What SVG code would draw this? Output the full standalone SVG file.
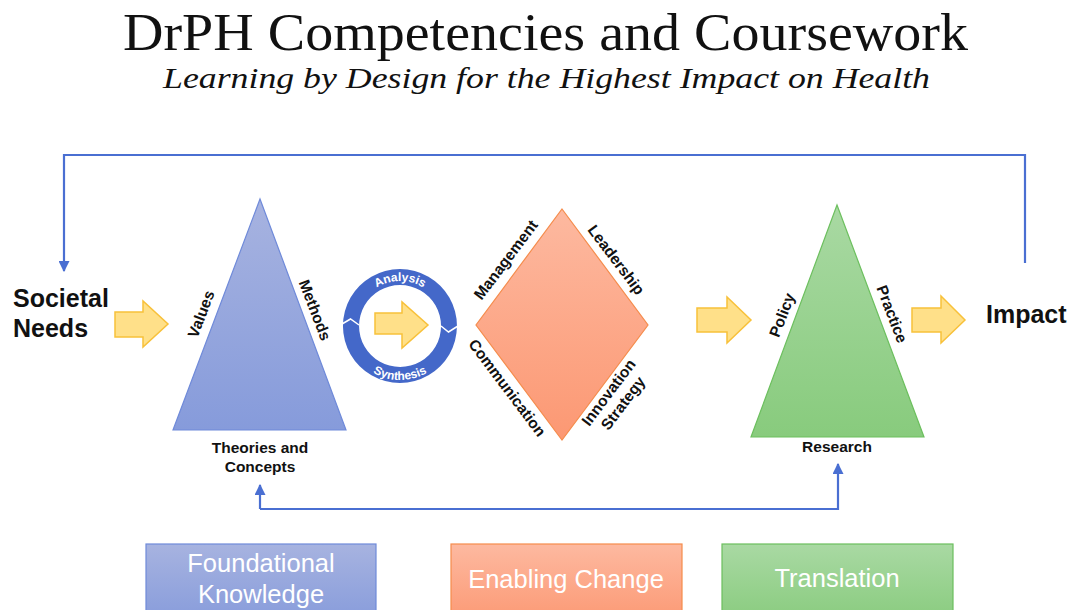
<svg xmlns="http://www.w3.org/2000/svg" width="1073" height="610" viewBox="0 0 1073 610">
  <defs>
    <linearGradient id="gBlue" x1="0" y1="0" x2="0" y2="1">
      <stop offset="0" stop-color="#a7b3e0"/>
      <stop offset="1" stop-color="#869bdb"/>
    </linearGradient>
    <linearGradient id="gOrange" x1="0" y1="0" x2="0" y2="1">
      <stop offset="0" stop-color="#fdb9a0"/>
      <stop offset="1" stop-color="#fc9873"/>
    </linearGradient>
    <linearGradient id="gGreen" x1="0" y1="0" x2="0" y2="1">
      <stop offset="0" stop-color="#a9d9a3"/>
      <stop offset="1" stop-color="#88cb7d"/>
    </linearGradient>
    <marker id="head" viewBox="0 0 10 10" refX="9" refY="5" markerWidth="5" markerHeight="5" orient="auto" markerUnits="strokeWidth">
      <path d="M0,0 L10,5 L0,10 Z" fill="#4a6fd2"/>
    </marker>
    <path id="arcTop" d="M355,326 A45,45 0 0 1 445,326"/>
    <path id="arcBottom" d="M346,326 A54,54 0 0 0 454,326"/>
  </defs>
  <style>
    .title { font-family: "Liberation Serif", serif; fill: #111; }
    .lbl { font-family: "Liberation Sans", Arial, sans-serif; font-weight: bold; fill: #111; }
    .big { font-size: 25px; }
    .side { font-size: 15.5px; text-anchor: middle; }
    .ring { font-family: "Liberation Sans", Arial, sans-serif; font-weight: bold; font-size: 12px; fill: #ffffff; }
    .box { font-family: "Liberation Sans", Arial, sans-serif; font-size: 25.5px; fill: #ffffff; text-anchor: middle; }
    .yarrow { fill: #ffe089; stroke: #f8c13a; stroke-width: 1.5; stroke-linejoin: miter; }
    .conn { fill: none; stroke: #4a6fd2; stroke-width: 2.2; }
  </style>

  <!-- heading -->
  <g id="heading">
    <text class="title" x="123" y="50" font-size="52" textLength="845" lengthAdjust="spacingAndGlyphs">DrPH Competencies and Coursework</text>
    <text class="title" x="163" y="88" font-size="30" font-style="italic" textLength="767" lengthAdjust="spacingAndGlyphs">Learning by Design for the Highest Impact on Health</text>
  </g>

  <!-- feedback loops -->
  <g id="connectors">
    <polyline class="conn" points="1025,263 1025,155 64,155 64,271" marker-end="url(#head)"/>
    <polyline class="conn" points="260,509 838,509 838,464" marker-end="url(#head)"/>
    <line class="conn" x1="260" y1="509" x2="260" y2="485" marker-end="url(#head)"/>
  </g>

  <!-- flow arrows -->
  <g id="flow-arrows">
    <polygon class="yarrow" points="115,312 143,312 143,301 168,324 143,347 143,337 115,337"/>
    <polygon class="yarrow" points="697,308 727,308 727,297 751,320 727,343 727,332 697,332"/>
    <polygon class="yarrow" points="912,308 941,308 941,296 965,320 941,343 941,332 912,332"/>
  </g>

  <g id="societal-needs">
    <text class="lbl big" x="13" y="307">Societal</text>
    <text class="lbl big" x="13" y="337">Needs</text>
  </g>

  <g id="impact">
    <text class="lbl big" x="986" y="323">Impact</text>
  </g>

  <!-- foundational knowledge triangle -->
  <g id="foundational">
    <polygon points="260,199 346,430 173,430" fill="url(#gBlue)" stroke="#6f8ad9" stroke-width="1.2"/>
    <text class="lbl side" transform="translate(206,316) rotate(-69)">Values</text>
    <text class="lbl side" transform="translate(310,312) rotate(69)">Methods</text>
    <text class="lbl side" x="260" y="453">Theories and</text>
    <text class="lbl side" x="260" y="472">Concepts</text>
  </g>

  <!-- analysis / synthesis cycle -->
  <g id="cycle">
    <path d="M400,269 A57,57 0 1 1 399.9,269 Z M400,285 A41,41 0 1 0 400.1,285 Z" fill="#4468c9" fill-rule="evenodd"/>
    <polyline points="342,324 350.5,319 359,325" fill="none" stroke="#ffffff" stroke-width="1.5"/>
    <polyline points="441,326 448.5,332 458,326" fill="none" stroke="#ffffff" stroke-width="1.5"/>
    <text class="ring"><textPath href="#arcTop" startOffset="50%" text-anchor="middle">Analysis</textPath></text>
    <text class="ring"><textPath href="#arcBottom" startOffset="50%" text-anchor="middle">Synthesis</textPath></text>
    <polygon class="yarrow" points="375,313 402,313 402,302 428,325 402,348 402,334 375,334"/>
  </g>

  <!-- enabling change diamond -->
  <g id="enabling">
    <polygon points="562,209 648,325 562,440 476,325" fill="url(#gOrange)" stroke="#f58c4c" stroke-width="1.2"/>
    <text class="lbl side" transform="translate(510,263) rotate(-53)">Management</text>
    <text class="lbl side" transform="translate(612,263) rotate(53)">Leadership</text>
    <text class="lbl side" transform="translate(503,391) rotate(53)">Communication</text>
    <g transform="translate(616,398) rotate(-53)">
      <text class="lbl side" x="0" y="-4">Innovation</text>
      <text class="lbl side" x="0" y="14">Strategy</text>
    </g>
  </g>

  <!-- translation triangle -->
  <g id="translation">
    <polygon points="837,205 924,437 751,437" fill="url(#gGreen)" stroke="#6cbf5e" stroke-width="1.2"/>
    <text class="lbl side" transform="translate(787,317) rotate(-69)">Policy</text>
    <text class="lbl side" transform="translate(887,316) rotate(69)">Practice</text>
    <text class="lbl side" x="837" y="452">Research</text>
  </g>

  <!-- legend boxes -->
  <g id="legend-foundational">
    <rect x="146" y="544" width="230" height="80" fill="url(#gBlue)" stroke="#6f8ad9" stroke-width="1.2"/>
    <text class="box" x="261" y="572">Foundational</text>
    <text class="box" x="261" y="603">Knowledge</text>
  </g>
  <g id="legend-enabling">
    <rect x="451" y="544" width="231" height="80" fill="url(#gOrange)" stroke="#f58c4c" stroke-width="1.2"/>
    <text class="box" x="566" y="588">Enabling Change</text>
  </g>
  <g id="legend-translation">
    <rect x="722" y="544" width="231" height="80" fill="url(#gGreen)" stroke="#6cbf5e" stroke-width="1.2"/>
    <text class="box" x="837" y="587">Translation</text>
  </g>
</svg>
